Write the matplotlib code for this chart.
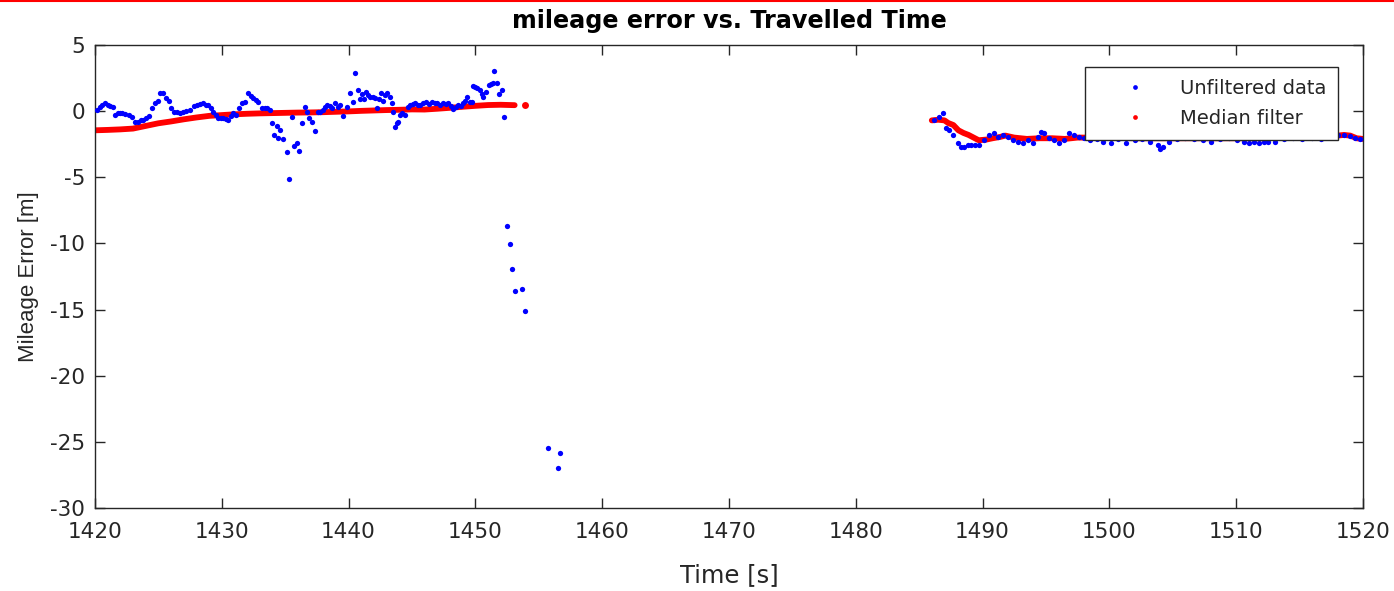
import numpy as np
import matplotlib
matplotlib.use("Agg")
import matplotlib.pyplot as plt
from matplotlib.lines import Line2D

plt.rcParams['font.family'] = ['DejaVu Sans']
plt.rcParams['axes.unicode_minus'] = False

# unfiltered mileage error, first run
t_raw_a = [1420.16, 1420.39, 1420.55, 1420.79, 1421.03, 1421.18, 1421.42, 1421.58, 1421.82, 1421.97,
           1422.13, 1422.37, 1422.68, 1422.92, 1423.16, 1423.39, 1423.63, 1423.79, 1424.03, 1424.26,
           1424.50, 1424.74, 1424.97, 1425.13, 1425.37, 1425.60, 1425.84, 1426.00, 1426.24, 1426.47,
           1426.71, 1426.95, 1427.18, 1427.50, 1427.81, 1428.05, 1428.29, 1428.52, 1428.76, 1428.92,
           1429.16, 1429.31, 1429.55, 1429.71, 1429.94, 1430.10, 1430.34, 1430.50, 1430.73, 1430.89,
           1431.13, 1431.37, 1431.60, 1431.84, 1432.08, 1432.31, 1432.47, 1432.71, 1432.87, 1433.18,
           1433.42, 1433.58, 1433.81, 1433.97, 1434.13, 1434.36, 1434.44, 1434.60, 1434.84, 1435.15,
           1435.31, 1435.55, 1435.71, 1435.94, 1436.10, 1436.34, 1436.57, 1436.73, 1436.89, 1437.13,
           1437.36, 1437.60, 1437.76, 1437.99, 1438.15, 1438.31, 1438.55, 1438.71, 1438.94, 1439.18,
           1439.34, 1439.57, 1439.89, 1440.13, 1440.36, 1440.52, 1440.76, 1440.92, 1441.07, 1441.23,
           1441.39, 1441.55, 1441.71, 1441.94, 1442.10, 1442.26, 1442.42, 1442.57, 1442.73, 1442.89,
           1443.05, 1443.28, 1443.44, 1443.52, 1443.68, 1443.84, 1443.92, 1444.07, 1444.23, 1444.47,
           1444.70, 1444.86, 1445.10, 1445.26, 1445.49, 1445.65, 1445.89, 1446.12, 1446.36, 1446.60,
           1446.84, 1447.00, 1447.23, 1447.47, 1447.70, 1447.86, 1448.10, 1448.26, 1448.49, 1448.65,
           1448.89, 1449.05, 1449.20, 1449.36, 1449.60, 1449.76, 1449.83, 1449.99, 1450.15, 1450.39,
           1450.55, 1450.62, 1450.86, 1451.10, 1451.26, 1451.41, 1451.49, 1451.73, 1451.89, 1452.12,
           1452.28, 1452.50, 1452.70, 1452.90, 1453.10, 1453.70, 1453.90, 1455.70, 1456.50, 1456.70]
err_raw_a = [0.08, 0.30, 0.45, 0.60, 0.45, 0.40, 0.30, -0.30, -0.15, -0.15,
             -0.15, -0.20, -0.30, -0.45, -0.80, -0.85, -0.70, -0.65, -0.50, -0.35,
             0.20, 0.60, 0.75, 1.35, 1.40, 1.00, 0.80, 0.20, -0.05, -0.10,
             -0.15, -0.05, 0.00, 0.10, 0.40, 0.50, 0.55, 0.60, 0.50, 0.45,
             0.20, -0.10, -0.30, -0.55, -0.50, -0.55, -0.60, -0.70, -0.40, -0.15,
             -0.30, 0.20, 0.60, 0.70, 1.35, 1.15, 1.00, 0.85, 0.70, 0.20,
             0.20, 0.20, 0.05, -0.90, -1.80, -1.10, -2.00, -1.40, -2.10, -3.10,
             -5.10, -0.45, -2.60, -2.40, -3.00, -0.90, 0.30, -0.10, -0.50, -0.80,
             -1.50, -0.10, -0.05, 0.05, 0.30, 0.45, 0.35, 0.25, 0.60, 0.30,
             0.45, -0.40, 0.30, 1.40, 0.70, 2.85, 1.60, 0.90, 1.30, 0.90,
             1.45, 1.20, 1.05, 1.10, 1.00, 0.20, 0.90, 1.35, 0.80, 1.20,
             1.35, 1.05, 0.60, -0.10, -1.20, -0.90, -0.80, -0.30, -0.15, -0.30,
             0.30, 0.45, 0.55, 0.60, 0.45, 0.50, 0.60, 0.70, 0.55, 0.70,
             0.60, 0.60, 0.50, 0.60, 0.55, 0.60, 0.35, 0.15, 0.30, 0.45,
             0.35, 0.60, 0.75, 1.05, 0.70, 0.70, 1.90, 1.80, 1.75, 1.60,
             1.30, 1.05, 1.45, 2.00, 2.05, 2.10, 3.00, 2.10, 1.30, 1.60,
             -0.45, -8.70, -10.05, -11.90, -13.60, -13.45, -15.10, -25.50, -27.00, -25.85]

# unfiltered mileage error, second run
t_raw_b = [1486.14, 1486.53, 1486.85, 1487.09, 1487.32, 1487.64, 1488.03, 1488.27, 1488.51, 1488.82,
           1489.06, 1489.38, 1489.69, 1490.09, 1490.48, 1490.88, 1491.19, 1491.59, 1491.98, 1492.38,
           1492.77, 1493.16, 1493.56, 1493.95, 1494.35, 1494.58, 1494.82, 1495.22, 1495.61, 1496.00,
           1496.40, 1496.80, 1497.19, 1497.58, 1498.00, 1498.50, 1499.00, 1499.50, 1500.10, 1500.70,
           1501.30, 1502.00, 1502.60, 1503.20, 1503.80, 1504.00, 1504.20, 1504.70, 1505.30, 1506.00,
           1506.70, 1507.40, 1508.00, 1508.70, 1509.40, 1510.10, 1510.60, 1511.00, 1511.40, 1511.80,
           1512.20, 1512.50, 1513.10, 1513.80, 1514.50, 1515.20, 1516.00, 1516.70, 1517.30, 1518.00,
           1518.50, 1519.00, 1519.40, 1519.80]
err_raw_b = [-0.70, -0.45, -0.15, -1.30, -1.45, -1.80, -2.40, -2.70, -2.70, -2.55,
             -2.55, -2.55, -2.55, -2.20, -1.80, -1.65, -1.95, -1.80, -1.95, -2.20,
             -2.30, -2.40, -2.20, -2.40, -1.95, -1.60, -1.65, -2.00, -2.20, -2.40,
             -2.20, -1.65, -1.80, -1.95, -2.05, -2.20, -2.10, -2.30, -2.40, -2.10,
             -2.40, -2.20, -2.10, -2.30, -2.55, -2.90, -2.70, -2.30, -2.10, -2.00,
             -2.10, -2.20, -2.35, -2.10, -2.00, -2.20, -2.30, -2.40, -2.30, -2.40,
             -2.30, -2.35, -2.30, -2.10, -2.00, -2.10, -2.00, -2.10, -1.95, -1.80,
             -1.80, -1.85, -2.05, -2.10]

# median filtered error
t_med_a = [1420, 1421, 1422, 1423, 1424, 1425, 1426, 1427, 1428, 1429,
           1430, 1431, 1432, 1433, 1434, 1435, 1436, 1437, 1438, 1439,
           1440, 1441, 1442, 1443, 1444, 1445, 1446, 1447, 1448, 1449,
           1450, 1451, 1452, 1453.1]
err_med_a = [-1.45, -1.42, -1.38, -1.32, -1.12, -0.92, -0.78, -0.62, -0.48, -0.36,
             -0.30, -0.24, -0.20, -0.17, -0.15, -0.13, -0.11, -0.10, -0.08, -0.05,
             -0.02, 0.02, 0.05, 0.08, 0.10, 0.13, 0.12, 0.18, 0.25, 0.33,
             0.40, 0.46, 0.48, 0.45]
t_med_tail = [1453.9]
err_med_tail = [0.45]
t_med_b = [1486.0, 1486.5, 1487.0, 1487.3, 1487.7, 1488.1, 1488.5, 1488.9, 1489.3, 1489.7,
           1490.3, 1490.8, 1491.4, 1491.8, 1492.5, 1493.5, 1494.5, 1495.5, 1496.5, 1497.5,
           1498.5, 1500, 1502, 1504, 1506, 1508, 1510, 1512, 1514, 1516,
           1518, 1518.5, 1519, 1519.5, 1520]
err_med_b = [-0.70, -0.65, -0.70, -0.90, -1.05, -1.45, -1.65, -1.80, -2.00, -2.20,
             -2.15, -2.05, -1.95, -1.85, -2.00, -2.10, -2.05, -2.05, -2.10, -2.00,
             -2.00, -2.00, -2.05, -2.05, -2.05, -2.05, -2.05, -2.05, -2.00, -2.00,
             -1.85, -1.80, -1.85, -2.05, -2.10]

xticks = np.arange(1420, 1521, 10)
yticks = np.arange(-30, 6, 5)

fig = plt.figure(figsize=(13.94, 5.91), dpi=100)
ax = fig.add_axes([0.0681, 0.1404, 0.9096, 0.7835])

blue = '#0000ff'
red = '#ff0000'
ink = '#262626'

# median filter drawn as a dense band
for tt, ee in [(t_med_a, err_med_a), (t_med_b, err_med_b)]:
    ax.plot(tt, ee, '-', color=red, lw=4.2, solid_capstyle='round', zorder=2)
ax.plot(t_med_tail, err_med_tail, 'o', color=red, ms=5, mec='none', zorder=2)

ax.plot(t_raw_a, err_raw_a, 'o', color=blue, ms=3.8, mec='none', zorder=3)
ax.plot(t_raw_b, err_raw_b, 'o', color=blue, ms=3.8, mec='none', zorder=3)

ax.set_xlim(1420, 1520)
ax.set_ylim(-30, 5)
ax.set_xticks(xticks)
ax.set_yticks(yticks)

ax.tick_params(direction='in', length=7, width=1, top=True, right=True,
               labelsize=15.5, colors=ink)
ax.tick_params(axis='x', pad=10)
ax.tick_params(axis='y', pad=7)
for s in ax.spines.values():
    s.set_color(ink)
    s.set_linewidth(1)

ax.set_xlabel('Time [s]', fontsize=17.5, color=ink, labelpad=15)
ax.set_ylabel('Mileage Error [m]', fontsize=16, color=ink, labelpad=8,
              family=['Liberation Sans', 'DejaVu Sans'])
ax.set_title('mileage error vs. Travelled Time', fontsize=17.2, fontweight='bold', pad=12)

handles = [Line2D([], [], ls='none', marker='o', ms=3.4, mec='none', color=blue),
           Line2D([], [], ls='none', marker='o', ms=3.4, mec='none', color=red)]
leg = ax.legend(handles, ['Unfiltered data', 'Median filter'],
                loc='upper right', bbox_to_anchor=(0.980, 0.952), fontsize=14,
                frameon=True, fancybox=False, framealpha=1, edgecolor=ink,
                handlelength=3.9, handletextpad=0.35, borderpad=0.6,
                labelspacing=0.58, borderaxespad=0)
leg.get_frame().set_linewidth(1)
for txt in leg.get_texts():
    txt.set_color(ink)

# thin red rule along the top edge
fig.add_artist(Line2D([0, 1], [0.999, 0.999], color=red, lw=1.5, transform=fig.transFigure))

fig.savefig('out.png', dpi=100)
